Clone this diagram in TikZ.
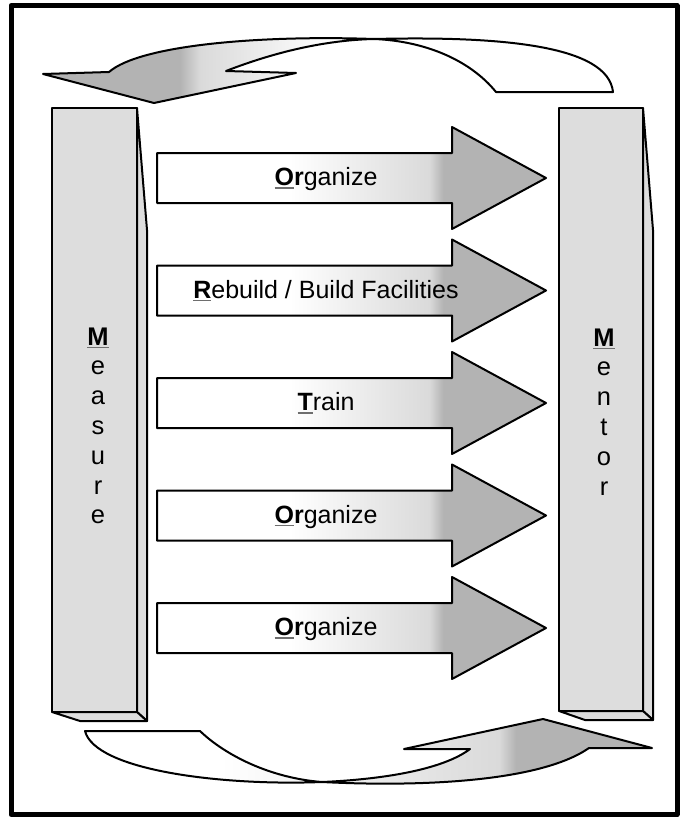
\documentclass[tikz,border=0pt]{standalone}
\usepackage{fontspec}
\setmainfont{Liberation Sans}
\definecolor{darkg}{RGB}{179,179,179}
\definecolor{lightg}{RGB}{218,218,218}
\definecolor{pillarg}{RGB}{221,221,221}
\definecolor{ulgray}{RGB}{110,110,110}
\pgfdeclarehorizontalshading{straightshade}{100bp}{color(0bp)=(white); color(42bp)=(white); color(60bp)=(lightg); color(61.8bp)=(darkg); color(100bp)=(darkg)}
\pgfdeclarehorizontalshading{topshade}{100bp}{color(0bp)=(darkg); color(37bp)=(darkg); color(38.8bp)=(lightg); color(50bp)=(white); color(100bp)=(white)}
\pgfdeclarehorizontalshading{botshade}{100bp}{color(0bp)=(white); color(37bp)=(white); color(61.5bp)=(lightg); color(63bp)=(darkg); color(100bp)=(darkg)}
\newcommand\myul[1]{\setbox0=\hbox{#1}\rlap{\color{ulgray}\rule[-3.3bp]{\wd0}{1.4bp}}\box0}
\begin{document}
\begin{tikzpicture}[x=1bp,y=-1bp,line join=round,
  outl/.style={draw=black,line width=2bp},
  pillar/.style={outl,fill=pillarg},
  lbl/.style={font=\fontsize{25bp}{29bp}\selectfont,anchor=base,inner sep=0pt},
  plbl/.style={font=\fontsize{25.5bp}{30bp}\selectfont,anchor=base,inner sep=0pt}]
\useasboundingbox (0,0) rectangle (681,817);
\fill[white] (0,0) rectangle (681,817);
\draw[line width=5bp] (11,5.5) rectangle (677,814.5);

% pillars
\draw[pillar] (52,108) rectangle (137,712);
\draw[pillar] (137,108) -- (147,230) -- (147,721) -- (137,712) -- cycle;
\draw[pillar] (52,712) -- (80,721) -- (147,721) -- (137,712) -- cycle;
\draw[pillar] (559,108) rectangle (643,711);
\draw[pillar] (643,108) -- (653,230) -- (653,720) -- (643,711) -- cycle;
\draw[pillar] (559,711) -- (585,720) -- (653,720) -- (643,711) -- cycle;

% straight arrows
\foreach \cy in {178,290.5,403,515.5,628}{
  \shadedraw[outl,shading=straightshade] (157,\cy-25) -- (452,\cy-25) -- (452,\cy-51)
    -- (546,\cy) -- (452,\cy+51) -- (452,\cy+25) -- (157,\cy+25) -- cycle;
}

% curved arrows
\shadedraw[outl,shading=topshade] (43,74) -- (154,103) -- (296,73) -- (226,71)
  .. controls (280,50) and (330,40) .. (374,39)
  .. controls (500,36) and (608,45) .. (613,92)
  -- (496,92)
  .. controls (470,60) and (425,41) .. (374,39)
  .. controls (260,35) and (140,45) .. (109,72) -- cycle;
\shadedraw[outl,shading=botshade] (404,749) -- (543,719) -- (652,748) -- (589,748)
  .. controls (540,782) and (420,787) .. (322,782)
  .. controls (270,778) and (225,755) .. (200,731)
  -- (85,731)
  .. controls (95,770) and (220,786) .. (322,782)
  .. controls (390,779) and (445,768) .. (470,749) -- cycle;

% arrow labels
\node[lbl] (a1) at (326,185.5) {\myul{\textbf{O}}\textbf{r}ganize};
\node[lbl] (a2) at (326,298) {\myul{\textbf{R}}ebuild / Build Facilities};
\node[lbl] (a3) at (326,410.5) {\myul{\textbf{T}}rain};
\node[lbl] (a4) at (326,523) {\myul{\textbf{O}}\textbf{r}ganize};
\node[lbl] (a5) at (326,635.5) {\myul{\textbf{O}}\textbf{r}ganize};

% pillar labels
\node[plbl] (mL0) at (98,345) {\myul{\textbf{M}}};
\foreach \l [count=\k] in {e,a,s,u,r,e}
  \node[plbl] (mL\k) at (98,345+29.8*\k) {\l};
\node[plbl] (mR0) at (604,346) {\myul{\textbf{M}}};
\foreach \l [count=\k] in {e,n,t,o,r}
  \node[plbl] (mR\k) at (604,346+29.8*\k) {\l};
\end{tikzpicture}
\end{document}
